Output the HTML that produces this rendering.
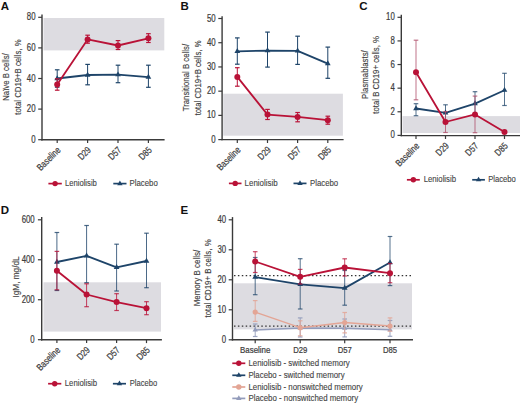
<!DOCTYPE html><html><head><meta charset="utf-8"><style>html,body{margin:0;padding:0;background:#fff;}svg{display:block;}</style></head><body>
<svg width="520" height="403" viewBox="0 0 520 403" font-family='"Liberation Sans", sans-serif'>
<rect width="520" height="403" fill="#ffffff"/>
<text x="0.80" y="9.90" font-size="11.5" text-anchor="start" fill="#111111" font-weight="bold" >A</text>
<rect x="43.50" y="18.00" width="120.80" height="32.40" fill="#dddce1"/>
<line x1="38.20" y1="139.70" x2="42.00" y2="139.70" stroke="#3a3a3a" stroke-width="1.2" />
<text x="35.50" y="142.70" font-size="10.0" text-anchor="end" fill="#3d3d3d" stroke="#3d3d3d" stroke-width="0.22" textLength="4.35" lengthAdjust="spacingAndGlyphs" >0</text>
<line x1="38.20" y1="109.10" x2="42.00" y2="109.10" stroke="#3a3a3a" stroke-width="1.2" />
<text x="35.50" y="112.10" font-size="10.0" text-anchor="end" fill="#3d3d3d" stroke="#3d3d3d" stroke-width="0.22" textLength="8.70" lengthAdjust="spacingAndGlyphs" >20</text>
<line x1="38.20" y1="78.50" x2="42.00" y2="78.50" stroke="#3a3a3a" stroke-width="1.2" />
<text x="35.50" y="81.50" font-size="10.0" text-anchor="end" fill="#3d3d3d" stroke="#3d3d3d" stroke-width="0.22" textLength="8.70" lengthAdjust="spacingAndGlyphs" >40</text>
<line x1="38.20" y1="47.90" x2="42.00" y2="47.90" stroke="#3a3a3a" stroke-width="1.2" />
<text x="35.50" y="50.90" font-size="10.0" text-anchor="end" fill="#3d3d3d" stroke="#3d3d3d" stroke-width="0.22" textLength="8.70" lengthAdjust="spacingAndGlyphs" >60</text>
<line x1="38.20" y1="17.30" x2="42.00" y2="17.30" stroke="#3a3a3a" stroke-width="1.2" />
<text x="35.50" y="20.30" font-size="10.0" text-anchor="end" fill="#3d3d3d" stroke="#3d3d3d" stroke-width="0.22" textLength="8.70" lengthAdjust="spacingAndGlyphs" >80</text>
<line x1="57.20" y1="139.70" x2="57.20" y2="143.10" stroke="#3a3a3a" stroke-width="1.2" />
<line x1="87.60" y1="139.70" x2="87.60" y2="143.10" stroke="#3a3a3a" stroke-width="1.2" />
<line x1="118.00" y1="139.70" x2="118.00" y2="143.10" stroke="#3a3a3a" stroke-width="1.2" />
<line x1="148.40" y1="139.70" x2="148.40" y2="143.10" stroke="#3a3a3a" stroke-width="1.2" />
<line x1="42.00" y1="14.50" x2="42.00" y2="140.40" stroke="#3a3a3a" stroke-width="1.4" />
<line x1="41.30" y1="139.70" x2="164.60" y2="139.70" stroke="#3a3a3a" stroke-width="1.4" />
<text x="61.20" y="150.70" font-size="9.6" text-anchor="end" fill="#3d3d3d" stroke="#3d3d3d" stroke-width="0.22" textLength="29.00" lengthAdjust="spacingAndGlyphs" transform="rotate(-45 61.20 150.70)" >Baseline</text>
<text x="91.60" y="150.70" font-size="9.6" text-anchor="end" fill="#3d3d3d" stroke="#3d3d3d" stroke-width="0.22" textLength="14.00" lengthAdjust="spacingAndGlyphs" transform="rotate(-45 91.60 150.70)" >D29</text>
<text x="122.00" y="150.70" font-size="9.6" text-anchor="end" fill="#3d3d3d" stroke="#3d3d3d" stroke-width="0.22" textLength="14.00" lengthAdjust="spacingAndGlyphs" transform="rotate(-45 122.00 150.70)" >D57</text>
<text x="152.40" y="150.70" font-size="9.6" text-anchor="end" fill="#3d3d3d" stroke="#3d3d3d" stroke-width="0.22" textLength="14.00" lengthAdjust="spacingAndGlyphs" transform="rotate(-45 152.40 150.70)" >D85</text>
<line x1="57.20" y1="69.80" x2="57.20" y2="87.20" stroke="#1e4469" stroke-width="1.0" />
<line x1="54.90" y1="69.80" x2="59.50" y2="69.80" stroke="#1e4469" stroke-width="1.2" />
<line x1="54.90" y1="87.20" x2="59.50" y2="87.20" stroke="#1e4469" stroke-width="1.2" />
<line x1="87.60" y1="64.40" x2="87.60" y2="84.80" stroke="#1e4469" stroke-width="1.0" />
<line x1="85.30" y1="64.40" x2="89.90" y2="64.40" stroke="#1e4469" stroke-width="1.2" />
<line x1="85.30" y1="84.80" x2="89.90" y2="84.80" stroke="#1e4469" stroke-width="1.2" />
<line x1="118.00" y1="65.20" x2="118.00" y2="82.70" stroke="#1e4469" stroke-width="1.0" />
<line x1="115.70" y1="65.20" x2="120.30" y2="65.20" stroke="#1e4469" stroke-width="1.2" />
<line x1="115.70" y1="82.70" x2="120.30" y2="82.70" stroke="#1e4469" stroke-width="1.2" />
<line x1="148.40" y1="65.20" x2="148.40" y2="87.30" stroke="#1e4469" stroke-width="1.0" />
<line x1="146.10" y1="65.20" x2="150.70" y2="65.20" stroke="#1e4469" stroke-width="1.2" />
<line x1="146.10" y1="87.30" x2="150.70" y2="87.30" stroke="#1e4469" stroke-width="1.2" />
<path d="M57.20,78.50 L87.60,75.00 L118.00,74.70 L148.40,77.10" fill="none" stroke="#1e4469" stroke-width="1.8" stroke-linejoin="round"/>
<polygon points="54.35,80.15 60.05,80.15 57.20,75.21" fill="#1e4469"/>
<polygon points="84.75,76.65 90.45,76.65 87.60,71.71" fill="#1e4469"/>
<polygon points="115.15,76.35 120.85,76.35 118.00,71.41" fill="#1e4469"/>
<polygon points="145.55,78.75 151.25,78.75 148.40,73.81" fill="#1e4469"/>
<line x1="57.20" y1="78.80" x2="57.20" y2="90.20" stroke="#b91237" stroke-width="1.0" />
<line x1="54.90" y1="78.80" x2="59.50" y2="78.80" stroke="#b91237" stroke-width="1.2" />
<line x1="54.90" y1="90.20" x2="59.50" y2="90.20" stroke="#b91237" stroke-width="1.2" />
<line x1="87.60" y1="35.20" x2="87.60" y2="43.20" stroke="#b91237" stroke-width="1.0" />
<line x1="85.30" y1="35.20" x2="89.90" y2="35.20" stroke="#b91237" stroke-width="1.2" />
<line x1="85.30" y1="43.20" x2="89.90" y2="43.20" stroke="#b91237" stroke-width="1.2" />
<line x1="118.00" y1="40.60" x2="118.00" y2="49.50" stroke="#b91237" stroke-width="1.0" />
<line x1="115.70" y1="40.60" x2="120.30" y2="40.60" stroke="#b91237" stroke-width="1.2" />
<line x1="115.70" y1="49.50" x2="120.30" y2="49.50" stroke="#b91237" stroke-width="1.2" />
<line x1="148.40" y1="33.70" x2="148.40" y2="42.50" stroke="#b91237" stroke-width="1.0" />
<line x1="146.10" y1="33.70" x2="150.70" y2="33.70" stroke="#b91237" stroke-width="1.2" />
<line x1="146.10" y1="42.50" x2="150.70" y2="42.50" stroke="#b91237" stroke-width="1.2" />
<path d="M57.20,84.50 L87.60,39.40 L118.00,45.50 L148.40,38.30" fill="none" stroke="#b91237" stroke-width="1.8" stroke-linejoin="round"/>
<circle cx="57.20" cy="84.50" r="3.0" fill="#b91237"/>
<circle cx="87.60" cy="39.40" r="3.0" fill="#b91237"/>
<circle cx="118.00" cy="45.50" r="3.0" fill="#b91237"/>
<circle cx="148.40" cy="38.30" r="3.0" fill="#b91237"/>
<text x="9.00" y="77.00" font-size="9.9" text-anchor="middle" fill="#3d3d3d" stroke="#3d3d3d" stroke-width="0.15" textLength="47.50" lengthAdjust="spacingAndGlyphs" transform="rotate(-90 9.00 77.00)" >Naïve B cells/</text>
<text x="21.40" y="77.00" font-size="9.9" text-anchor="middle" fill="#3d3d3d" stroke="#3d3d3d" stroke-width="0.15" textLength="75.30" lengthAdjust="spacingAndGlyphs" transform="rotate(-90 21.40 77.00)" >total CD19+B cells, %</text>
<line x1="48.40" y1="183.60" x2="61.80" y2="183.60" stroke="#b91237" stroke-width="1.7" />
<circle cx="55.10" cy="183.60" r="2.7" fill="#b91237"/>
<text x="64.90" y="186.20" font-size="8.6" text-anchor="start" fill="#444444" stroke="#444444" stroke-width="0.12" textLength="32.00" lengthAdjust="spacingAndGlyphs" >Leniolisib</text>
<line x1="113.30" y1="183.60" x2="126.50" y2="183.60" stroke="#1e4469" stroke-width="1.7" />
<polygon points="117.20,185.16 122.60,185.16 119.90,180.48" fill="#1e4469"/>
<text x="129.60" y="186.20" font-size="8.6" text-anchor="start" fill="#444444" stroke="#444444" stroke-width="0.12" textLength="28.20" lengthAdjust="spacingAndGlyphs" >Placebo</text>
<text x="180.50" y="9.90" font-size="11.5" text-anchor="start" fill="#111111" font-weight="bold" >B</text>
<rect x="223.20" y="93.70" width="119.70" height="42.00" fill="#dddce1"/>
<line x1="218.30" y1="139.60" x2="222.10" y2="139.60" stroke="#3a3a3a" stroke-width="1.2" />
<text x="215.60" y="142.60" font-size="10.0" text-anchor="end" fill="#3d3d3d" stroke="#3d3d3d" stroke-width="0.22" textLength="4.35" lengthAdjust="spacingAndGlyphs" >0</text>
<line x1="218.30" y1="115.38" x2="222.10" y2="115.38" stroke="#3a3a3a" stroke-width="1.2" />
<text x="215.60" y="118.38" font-size="10.0" text-anchor="end" fill="#3d3d3d" stroke="#3d3d3d" stroke-width="0.22" textLength="8.70" lengthAdjust="spacingAndGlyphs" >10</text>
<line x1="218.30" y1="91.16" x2="222.10" y2="91.16" stroke="#3a3a3a" stroke-width="1.2" />
<text x="215.60" y="94.16" font-size="10.0" text-anchor="end" fill="#3d3d3d" stroke="#3d3d3d" stroke-width="0.22" textLength="8.70" lengthAdjust="spacingAndGlyphs" >20</text>
<line x1="218.30" y1="66.94" x2="222.10" y2="66.94" stroke="#3a3a3a" stroke-width="1.2" />
<text x="215.60" y="69.94" font-size="10.0" text-anchor="end" fill="#3d3d3d" stroke="#3d3d3d" stroke-width="0.22" textLength="8.70" lengthAdjust="spacingAndGlyphs" >30</text>
<line x1="218.30" y1="42.72" x2="222.10" y2="42.72" stroke="#3a3a3a" stroke-width="1.2" />
<text x="215.60" y="45.72" font-size="10.0" text-anchor="end" fill="#3d3d3d" stroke="#3d3d3d" stroke-width="0.22" textLength="8.70" lengthAdjust="spacingAndGlyphs" >40</text>
<line x1="218.30" y1="18.50" x2="222.10" y2="18.50" stroke="#3a3a3a" stroke-width="1.2" />
<text x="215.60" y="21.50" font-size="10.0" text-anchor="end" fill="#3d3d3d" stroke="#3d3d3d" stroke-width="0.22" textLength="8.70" lengthAdjust="spacingAndGlyphs" >50</text>
<line x1="237.30" y1="139.60" x2="237.30" y2="143.00" stroke="#3a3a3a" stroke-width="1.2" />
<line x1="267.50" y1="139.60" x2="267.50" y2="143.00" stroke="#3a3a3a" stroke-width="1.2" />
<line x1="297.60" y1="139.60" x2="297.60" y2="143.00" stroke="#3a3a3a" stroke-width="1.2" />
<line x1="327.80" y1="139.60" x2="327.80" y2="143.00" stroke="#3a3a3a" stroke-width="1.2" />
<line x1="222.10" y1="16.20" x2="222.10" y2="140.30" stroke="#3a3a3a" stroke-width="1.4" />
<line x1="221.40" y1="139.60" x2="343.60" y2="139.60" stroke="#3a3a3a" stroke-width="1.4" />
<text x="241.30" y="150.60" font-size="9.6" text-anchor="end" fill="#3d3d3d" stroke="#3d3d3d" stroke-width="0.22" textLength="29.00" lengthAdjust="spacingAndGlyphs" transform="rotate(-45 241.30 150.60)" >Baseline</text>
<text x="271.50" y="150.60" font-size="9.6" text-anchor="end" fill="#3d3d3d" stroke="#3d3d3d" stroke-width="0.22" textLength="14.00" lengthAdjust="spacingAndGlyphs" transform="rotate(-45 271.50 150.60)" >D29</text>
<text x="301.60" y="150.60" font-size="9.6" text-anchor="end" fill="#3d3d3d" stroke="#3d3d3d" stroke-width="0.22" textLength="14.00" lengthAdjust="spacingAndGlyphs" transform="rotate(-45 301.60 150.60)" >D57</text>
<text x="331.80" y="150.60" font-size="9.6" text-anchor="end" fill="#3d3d3d" stroke="#3d3d3d" stroke-width="0.22" textLength="14.00" lengthAdjust="spacingAndGlyphs" transform="rotate(-45 331.80 150.60)" >D85</text>
<line x1="237.30" y1="37.90" x2="237.30" y2="64.20" stroke="#1e4469" stroke-width="1.0" />
<line x1="235.00" y1="37.90" x2="239.60" y2="37.90" stroke="#1e4469" stroke-width="1.2" />
<line x1="235.00" y1="64.20" x2="239.60" y2="64.20" stroke="#1e4469" stroke-width="1.2" />
<line x1="267.50" y1="32.10" x2="267.50" y2="67.10" stroke="#1e4469" stroke-width="1.0" />
<line x1="265.20" y1="32.10" x2="269.80" y2="32.10" stroke="#1e4469" stroke-width="1.2" />
<line x1="265.20" y1="67.10" x2="269.80" y2="67.10" stroke="#1e4469" stroke-width="1.2" />
<line x1="297.60" y1="36.20" x2="297.60" y2="64.40" stroke="#1e4469" stroke-width="1.0" />
<line x1="295.30" y1="36.20" x2="299.90" y2="36.20" stroke="#1e4469" stroke-width="1.2" />
<line x1="295.30" y1="64.40" x2="299.90" y2="64.40" stroke="#1e4469" stroke-width="1.2" />
<line x1="327.80" y1="47.10" x2="327.80" y2="78.30" stroke="#1e4469" stroke-width="1.0" />
<line x1="325.50" y1="47.10" x2="330.10" y2="47.10" stroke="#1e4469" stroke-width="1.2" />
<line x1="325.50" y1="78.30" x2="330.10" y2="78.30" stroke="#1e4469" stroke-width="1.2" />
<path d="M237.30,51.40 L267.50,50.60 L297.60,50.90 L327.80,63.60" fill="none" stroke="#1e4469" stroke-width="1.8" stroke-linejoin="round"/>
<polygon points="234.45,53.05 240.15,53.05 237.30,48.11" fill="#1e4469"/>
<polygon points="264.65,52.25 270.35,52.25 267.50,47.31" fill="#1e4469"/>
<polygon points="294.75,52.55 300.45,52.55 297.60,47.61" fill="#1e4469"/>
<polygon points="324.95,65.25 330.65,65.25 327.80,60.31" fill="#1e4469"/>
<line x1="237.30" y1="67.70" x2="237.30" y2="86.20" stroke="#b91237" stroke-width="1.0" />
<line x1="235.00" y1="67.70" x2="239.60" y2="67.70" stroke="#b91237" stroke-width="1.2" />
<line x1="235.00" y1="86.20" x2="239.60" y2="86.20" stroke="#b91237" stroke-width="1.2" />
<line x1="267.50" y1="109.40" x2="267.50" y2="119.50" stroke="#b91237" stroke-width="1.0" />
<line x1="265.20" y1="109.40" x2="269.80" y2="109.40" stroke="#b91237" stroke-width="1.2" />
<line x1="265.20" y1="119.50" x2="269.80" y2="119.50" stroke="#b91237" stroke-width="1.2" />
<line x1="297.60" y1="112.50" x2="297.60" y2="121.80" stroke="#b91237" stroke-width="1.0" />
<line x1="295.30" y1="112.50" x2="299.90" y2="112.50" stroke="#b91237" stroke-width="1.2" />
<line x1="295.30" y1="121.80" x2="299.90" y2="121.80" stroke="#b91237" stroke-width="1.2" />
<line x1="327.80" y1="116.20" x2="327.80" y2="124.20" stroke="#b91237" stroke-width="1.0" />
<line x1="325.50" y1="116.20" x2="330.10" y2="116.20" stroke="#b91237" stroke-width="1.2" />
<line x1="325.50" y1="124.20" x2="330.10" y2="124.20" stroke="#b91237" stroke-width="1.2" />
<path d="M237.30,76.90 L267.50,114.60 L297.60,116.90 L327.80,120.20" fill="none" stroke="#b91237" stroke-width="1.8" stroke-linejoin="round"/>
<circle cx="237.30" cy="76.90" r="3.0" fill="#b91237"/>
<circle cx="267.50" cy="114.60" r="3.0" fill="#b91237"/>
<circle cx="297.60" cy="116.90" r="3.0" fill="#b91237"/>
<circle cx="327.80" cy="120.20" r="3.0" fill="#b91237"/>
<text x="188.80" y="77.60" font-size="9.9" text-anchor="middle" fill="#3d3d3d" stroke="#3d3d3d" stroke-width="0.15" textLength="67.40" lengthAdjust="spacingAndGlyphs" transform="rotate(-90 188.80 77.60)" >Transitional B cells/</text>
<text x="200.90" y="77.90" font-size="9.9" text-anchor="middle" fill="#3d3d3d" stroke="#3d3d3d" stroke-width="0.15" textLength="74.80" lengthAdjust="spacingAndGlyphs" transform="rotate(-90 200.90 77.90)" >total CD19+B cells, %</text>
<line x1="228.90" y1="183.40" x2="241.50" y2="183.40" stroke="#b91237" stroke-width="1.7" />
<circle cx="235.20" cy="183.40" r="2.7" fill="#b91237"/>
<text x="244.60" y="186.00" font-size="8.6" text-anchor="start" fill="#444444" stroke="#444444" stroke-width="0.12" textLength="33.00" lengthAdjust="spacingAndGlyphs" >Leniolisib</text>
<line x1="293.50" y1="183.40" x2="306.50" y2="183.40" stroke="#1e4469" stroke-width="1.7" />
<polygon points="297.30,184.96 302.70,184.96 300.00,180.28" fill="#1e4469"/>
<text x="310.00" y="186.00" font-size="8.6" text-anchor="start" fill="#444444" stroke="#444444" stroke-width="0.12" textLength="28.20" lengthAdjust="spacingAndGlyphs" >Placebo</text>
<text x="359.30" y="10.10" font-size="11.5" text-anchor="start" fill="#111111" font-weight="bold" >C</text>
<rect x="402.50" y="116.10" width="117.50" height="16.90" fill="#dddce1"/>
<line x1="397.50" y1="135.40" x2="401.30" y2="135.40" stroke="#3a3a3a" stroke-width="1.2" />
<text x="394.80" y="138.40" font-size="10.0" text-anchor="end" fill="#3d3d3d" stroke="#3d3d3d" stroke-width="0.22" textLength="4.35" lengthAdjust="spacingAndGlyphs" >0</text>
<line x1="397.50" y1="111.78" x2="401.30" y2="111.78" stroke="#3a3a3a" stroke-width="1.2" />
<text x="394.80" y="114.78" font-size="10.0" text-anchor="end" fill="#3d3d3d" stroke="#3d3d3d" stroke-width="0.22" textLength="4.35" lengthAdjust="spacingAndGlyphs" >2</text>
<line x1="397.50" y1="88.16" x2="401.30" y2="88.16" stroke="#3a3a3a" stroke-width="1.2" />
<text x="394.80" y="91.16" font-size="10.0" text-anchor="end" fill="#3d3d3d" stroke="#3d3d3d" stroke-width="0.22" textLength="4.35" lengthAdjust="spacingAndGlyphs" >4</text>
<line x1="397.50" y1="64.54" x2="401.30" y2="64.54" stroke="#3a3a3a" stroke-width="1.2" />
<text x="394.80" y="67.54" font-size="10.0" text-anchor="end" fill="#3d3d3d" stroke="#3d3d3d" stroke-width="0.22" textLength="4.35" lengthAdjust="spacingAndGlyphs" >6</text>
<line x1="397.50" y1="40.92" x2="401.30" y2="40.92" stroke="#3a3a3a" stroke-width="1.2" />
<text x="394.80" y="43.92" font-size="10.0" text-anchor="end" fill="#3d3d3d" stroke="#3d3d3d" stroke-width="0.22" textLength="4.35" lengthAdjust="spacingAndGlyphs" >8</text>
<line x1="397.50" y1="17.30" x2="401.30" y2="17.30" stroke="#3a3a3a" stroke-width="1.2" />
<text x="394.80" y="20.30" font-size="10.0" text-anchor="end" fill="#3d3d3d" stroke="#3d3d3d" stroke-width="0.22" textLength="8.70" lengthAdjust="spacingAndGlyphs" >10</text>
<line x1="416.00" y1="135.60" x2="416.00" y2="139.00" stroke="#3a3a3a" stroke-width="1.2" />
<line x1="445.50" y1="135.60" x2="445.50" y2="139.00" stroke="#3a3a3a" stroke-width="1.2" />
<line x1="475.00" y1="135.60" x2="475.00" y2="139.00" stroke="#3a3a3a" stroke-width="1.2" />
<line x1="504.50" y1="135.60" x2="504.50" y2="139.00" stroke="#3a3a3a" stroke-width="1.2" />
<line x1="401.30" y1="14.80" x2="401.30" y2="136.30" stroke="#3a3a3a" stroke-width="1.4" />
<line x1="400.60" y1="135.60" x2="520.00" y2="135.60" stroke="#3a3a3a" stroke-width="1.4" />
<text x="420.00" y="146.60" font-size="9.6" text-anchor="end" fill="#3d3d3d" stroke="#3d3d3d" stroke-width="0.22" textLength="29.00" lengthAdjust="spacingAndGlyphs" transform="rotate(-45 420.00 146.60)" >Baseline</text>
<text x="449.50" y="146.60" font-size="9.6" text-anchor="end" fill="#3d3d3d" stroke="#3d3d3d" stroke-width="0.22" textLength="14.00" lengthAdjust="spacingAndGlyphs" transform="rotate(-45 449.50 146.60)" >D29</text>
<text x="479.00" y="146.60" font-size="9.6" text-anchor="end" fill="#3d3d3d" stroke="#3d3d3d" stroke-width="0.22" textLength="14.00" lengthAdjust="spacingAndGlyphs" transform="rotate(-45 479.00 146.60)" >D57</text>
<text x="508.50" y="146.60" font-size="9.6" text-anchor="end" fill="#3d3d3d" stroke="#3d3d3d" stroke-width="0.22" textLength="14.00" lengthAdjust="spacingAndGlyphs" transform="rotate(-45 508.50 146.60)" >D85</text>
<line x1="416.00" y1="103.70" x2="416.00" y2="115.70" stroke="#1e4469" stroke-width="1.0" stroke-opacity="0.75"/>
<line x1="413.70" y1="103.70" x2="418.30" y2="103.70" stroke="#1e4469" stroke-width="1.2" stroke-opacity="0.75"/>
<line x1="413.70" y1="115.70" x2="418.30" y2="115.70" stroke="#1e4469" stroke-width="1.2" stroke-opacity="0.75"/>
<line x1="445.50" y1="104.80" x2="445.50" y2="121.00" stroke="#1e4469" stroke-width="1.0" stroke-opacity="0.75"/>
<line x1="443.20" y1="104.80" x2="447.80" y2="104.80" stroke="#1e4469" stroke-width="1.2" stroke-opacity="0.75"/>
<line x1="443.20" y1="121.00" x2="447.80" y2="121.00" stroke="#1e4469" stroke-width="1.2" stroke-opacity="0.75"/>
<line x1="475.00" y1="91.70" x2="475.00" y2="115.50" stroke="#1e4469" stroke-width="1.0" stroke-opacity="0.75"/>
<line x1="472.70" y1="91.70" x2="477.30" y2="91.70" stroke="#1e4469" stroke-width="1.2" stroke-opacity="0.75"/>
<line x1="472.70" y1="115.50" x2="477.30" y2="115.50" stroke="#1e4469" stroke-width="1.2" stroke-opacity="0.75"/>
<line x1="504.50" y1="73.30" x2="504.50" y2="105.50" stroke="#1e4469" stroke-width="1.0" stroke-opacity="0.75"/>
<line x1="502.20" y1="73.30" x2="506.80" y2="73.30" stroke="#1e4469" stroke-width="1.2" stroke-opacity="0.75"/>
<line x1="502.20" y1="105.50" x2="506.80" y2="105.50" stroke="#1e4469" stroke-width="1.2" stroke-opacity="0.75"/>
<path d="M416.00,108.50 L445.50,112.90 L475.00,103.60 L504.50,90.20" fill="none" stroke="#1e4469" stroke-width="1.8" stroke-linejoin="round"/>
<polygon points="413.15,110.15 418.85,110.15 416.00,105.21" fill="#1e4469"/>
<polygon points="442.65,114.55 448.35,114.55 445.50,109.61" fill="#1e4469"/>
<polygon points="472.15,105.25 477.85,105.25 475.00,100.31" fill="#1e4469"/>
<polygon points="501.65,91.85 507.35,91.85 504.50,86.91" fill="#1e4469"/>
<line x1="416.00" y1="40.20" x2="416.00" y2="99.80" stroke="#b0506c" stroke-width="1.0" stroke-opacity="0.8"/>
<line x1="413.70" y1="40.20" x2="418.30" y2="40.20" stroke="#b0506c" stroke-width="1.2" stroke-opacity="0.8"/>
<line x1="413.70" y1="99.80" x2="418.30" y2="99.80" stroke="#b0506c" stroke-width="1.2" stroke-opacity="0.8"/>
<line x1="445.50" y1="111.60" x2="445.50" y2="132.50" stroke="#b0506c" stroke-width="1.0" stroke-opacity="0.8"/>
<line x1="443.20" y1="111.60" x2="447.80" y2="111.60" stroke="#b0506c" stroke-width="1.2" stroke-opacity="0.8"/>
<line x1="443.20" y1="132.50" x2="447.80" y2="132.50" stroke="#b0506c" stroke-width="1.2" stroke-opacity="0.8"/>
<line x1="475.00" y1="96.10" x2="475.00" y2="132.70" stroke="#b0506c" stroke-width="1.0" stroke-opacity="0.8"/>
<line x1="472.70" y1="96.10" x2="477.30" y2="96.10" stroke="#b0506c" stroke-width="1.2" stroke-opacity="0.8"/>
<line x1="472.70" y1="132.70" x2="477.30" y2="132.70" stroke="#b0506c" stroke-width="1.2" stroke-opacity="0.8"/>
<line x1="504.50" y1="131.00" x2="504.50" y2="133.00" stroke="#b0506c" stroke-width="1.0" stroke-opacity="0.8"/>
<line x1="502.20" y1="131.00" x2="506.80" y2="131.00" stroke="#b0506c" stroke-width="1.2" stroke-opacity="0.8"/>
<line x1="502.20" y1="133.00" x2="506.80" y2="133.00" stroke="#b0506c" stroke-width="1.2" stroke-opacity="0.8"/>
<path d="M416.00,72.20 L445.50,122.00 L475.00,114.40 L504.50,132.00" fill="none" stroke="#b91237" stroke-width="1.8" stroke-linejoin="round"/>
<circle cx="416.00" cy="72.20" r="3.0" fill="#b91237"/>
<circle cx="445.50" cy="122.00" r="3.0" fill="#b91237"/>
<circle cx="475.00" cy="114.40" r="3.0" fill="#b91237"/>
<circle cx="504.50" cy="132.00" r="3.0" fill="#b91237"/>
<text x="367.80" y="74.60" font-size="9.9" text-anchor="middle" fill="#3d3d3d" stroke="#3d3d3d" stroke-width="0.15" textLength="48.60" lengthAdjust="spacingAndGlyphs" transform="rotate(-90 367.80 74.60)" >Plasmablasts/</text>
<text x="378.90" y="74.85" font-size="9.9" text-anchor="middle" fill="#3d3d3d" stroke="#3d3d3d" stroke-width="0.15" textLength="77.70" lengthAdjust="spacingAndGlyphs" transform="rotate(-90 378.90 74.85)" >total B CD19+ cells, %</text>
<line x1="406.90" y1="179.80" x2="419.80" y2="179.80" stroke="#b91237" stroke-width="1.7" />
<circle cx="413.35" cy="179.80" r="2.7" fill="#b91237"/>
<text x="423.70" y="182.40" font-size="8.6" text-anchor="start" fill="#444444" stroke="#444444" stroke-width="0.12" textLength="32.30" lengthAdjust="spacingAndGlyphs" >Leniolisib</text>
<line x1="472.20" y1="179.80" x2="484.90" y2="179.80" stroke="#1e4469" stroke-width="1.7" />
<polygon points="475.85,181.36 481.25,181.36 478.55,176.68" fill="#1e4469"/>
<text x="488.20" y="182.40" font-size="8.6" text-anchor="start" fill="#444444" stroke="#444444" stroke-width="0.12" textLength="27.70" lengthAdjust="spacingAndGlyphs" >Placebo</text>
<text x="0.80" y="213.80" font-size="11.5" text-anchor="start" fill="#111111" font-weight="bold" >D</text>
<rect x="43.50" y="282.30" width="117.50" height="49.30" fill="#dddce1"/>
<line x1="37.90" y1="339.70" x2="41.70" y2="339.70" stroke="#3a3a3a" stroke-width="1.2" />
<text x="34.70" y="342.70" font-size="10.0" text-anchor="end" fill="#3d3d3d" stroke="#3d3d3d" stroke-width="0.22" textLength="4.35" lengthAdjust="spacingAndGlyphs" >0</text>
<line x1="37.90" y1="299.73" x2="41.70" y2="299.73" stroke="#3a3a3a" stroke-width="1.2" />
<text x="34.70" y="302.73" font-size="10.0" text-anchor="end" fill="#3d3d3d" stroke="#3d3d3d" stroke-width="0.22" textLength="13.05" lengthAdjust="spacingAndGlyphs" >200</text>
<line x1="37.90" y1="259.77" x2="41.70" y2="259.77" stroke="#3a3a3a" stroke-width="1.2" />
<text x="34.70" y="262.77" font-size="10.0" text-anchor="end" fill="#3d3d3d" stroke="#3d3d3d" stroke-width="0.22" textLength="13.05" lengthAdjust="spacingAndGlyphs" >400</text>
<line x1="37.90" y1="219.80" x2="41.70" y2="219.80" stroke="#3a3a3a" stroke-width="1.2" />
<text x="34.70" y="222.80" font-size="10.0" text-anchor="end" fill="#3d3d3d" stroke="#3d3d3d" stroke-width="0.22" textLength="13.05" lengthAdjust="spacingAndGlyphs" >600</text>
<line x1="56.90" y1="339.70" x2="56.90" y2="343.10" stroke="#3a3a3a" stroke-width="1.2" />
<line x1="86.60" y1="339.70" x2="86.60" y2="343.10" stroke="#3a3a3a" stroke-width="1.2" />
<line x1="116.60" y1="339.70" x2="116.60" y2="343.10" stroke="#3a3a3a" stroke-width="1.2" />
<line x1="146.50" y1="339.70" x2="146.50" y2="343.10" stroke="#3a3a3a" stroke-width="1.2" />
<line x1="41.70" y1="217.00" x2="41.70" y2="340.40" stroke="#3a3a3a" stroke-width="1.4" />
<line x1="41.00" y1="339.70" x2="161.90" y2="339.70" stroke="#3a3a3a" stroke-width="1.4" />
<text x="60.90" y="350.70" font-size="9.6" text-anchor="end" fill="#3d3d3d" stroke="#3d3d3d" stroke-width="0.22" textLength="29.00" lengthAdjust="spacingAndGlyphs" transform="rotate(-45 60.90 350.70)" >Baseline</text>
<text x="90.60" y="350.70" font-size="9.6" text-anchor="end" fill="#3d3d3d" stroke="#3d3d3d" stroke-width="0.22" textLength="14.00" lengthAdjust="spacingAndGlyphs" transform="rotate(-45 90.60 350.70)" >D29</text>
<text x="120.60" y="350.70" font-size="9.6" text-anchor="end" fill="#3d3d3d" stroke="#3d3d3d" stroke-width="0.22" textLength="14.00" lengthAdjust="spacingAndGlyphs" transform="rotate(-45 120.60 350.70)" >D57</text>
<text x="150.50" y="350.70" font-size="9.6" text-anchor="end" fill="#3d3d3d" stroke="#3d3d3d" stroke-width="0.22" textLength="14.00" lengthAdjust="spacingAndGlyphs" transform="rotate(-45 150.50 350.70)" >D85</text>
<line x1="56.90" y1="232.50" x2="56.90" y2="290.50" stroke="#1e4469" stroke-width="1.0" stroke-opacity="0.8"/>
<line x1="54.60" y1="232.50" x2="59.20" y2="232.50" stroke="#1e4469" stroke-width="1.2" stroke-opacity="0.8"/>
<line x1="54.60" y1="290.50" x2="59.20" y2="290.50" stroke="#1e4469" stroke-width="1.2" stroke-opacity="0.8"/>
<line x1="86.60" y1="225.50" x2="86.60" y2="282.70" stroke="#1e4469" stroke-width="1.0" stroke-opacity="0.8"/>
<line x1="84.30" y1="225.50" x2="88.90" y2="225.50" stroke="#1e4469" stroke-width="1.2" stroke-opacity="0.8"/>
<line x1="84.30" y1="282.70" x2="88.90" y2="282.70" stroke="#1e4469" stroke-width="1.2" stroke-opacity="0.8"/>
<line x1="116.60" y1="244.20" x2="116.60" y2="291.00" stroke="#1e4469" stroke-width="1.0" stroke-opacity="0.8"/>
<line x1="114.30" y1="244.20" x2="118.90" y2="244.20" stroke="#1e4469" stroke-width="1.2" stroke-opacity="0.8"/>
<line x1="114.30" y1="291.00" x2="118.90" y2="291.00" stroke="#1e4469" stroke-width="1.2" stroke-opacity="0.8"/>
<line x1="146.50" y1="233.20" x2="146.50" y2="287.70" stroke="#1e4469" stroke-width="1.0" stroke-opacity="0.8"/>
<line x1="144.20" y1="233.20" x2="148.80" y2="233.20" stroke="#1e4469" stroke-width="1.2" stroke-opacity="0.8"/>
<line x1="144.20" y1="287.70" x2="148.80" y2="287.70" stroke="#1e4469" stroke-width="1.2" stroke-opacity="0.8"/>
<path d="M56.90,262.00 L86.60,255.80 L116.60,267.40 L146.50,261.00" fill="none" stroke="#1e4469" stroke-width="1.8" stroke-linejoin="round"/>
<polygon points="54.05,263.65 59.75,263.65 56.90,258.71" fill="#1e4469"/>
<polygon points="83.75,257.45 89.45,257.45 86.60,252.51" fill="#1e4469"/>
<polygon points="113.75,269.05 119.45,269.05 116.60,264.11" fill="#1e4469"/>
<polygon points="143.65,262.65 149.35,262.65 146.50,257.71" fill="#1e4469"/>
<line x1="56.90" y1="251.40" x2="56.90" y2="289.80" stroke="#b91237" stroke-width="1.0" stroke-opacity="0.8"/>
<line x1="54.60" y1="251.40" x2="59.20" y2="251.40" stroke="#b91237" stroke-width="1.2" stroke-opacity="0.8"/>
<line x1="54.60" y1="289.80" x2="59.20" y2="289.80" stroke="#b91237" stroke-width="1.2" stroke-opacity="0.8"/>
<line x1="86.60" y1="283.80" x2="86.60" y2="306.70" stroke="#b91237" stroke-width="1.0" stroke-opacity="0.8"/>
<line x1="84.30" y1="283.80" x2="88.90" y2="283.80" stroke="#b91237" stroke-width="1.2" stroke-opacity="0.8"/>
<line x1="84.30" y1="306.70" x2="88.90" y2="306.70" stroke="#b91237" stroke-width="1.2" stroke-opacity="0.8"/>
<line x1="116.60" y1="293.70" x2="116.60" y2="310.50" stroke="#b91237" stroke-width="1.0" stroke-opacity="0.8"/>
<line x1="114.30" y1="293.70" x2="118.90" y2="293.70" stroke="#b91237" stroke-width="1.2" stroke-opacity="0.8"/>
<line x1="114.30" y1="310.50" x2="118.90" y2="310.50" stroke="#b91237" stroke-width="1.2" stroke-opacity="0.8"/>
<line x1="146.50" y1="301.70" x2="146.50" y2="314.70" stroke="#b91237" stroke-width="1.0" stroke-opacity="0.8"/>
<line x1="144.20" y1="301.70" x2="148.80" y2="301.70" stroke="#b91237" stroke-width="1.2" stroke-opacity="0.8"/>
<line x1="144.20" y1="314.70" x2="148.80" y2="314.70" stroke="#b91237" stroke-width="1.2" stroke-opacity="0.8"/>
<path d="M56.90,270.70 L86.60,294.50 L116.60,302.10 L146.50,308.20" fill="none" stroke="#b91237" stroke-width="1.8" stroke-linejoin="round"/>
<circle cx="56.90" cy="270.70" r="3.0" fill="#b91237"/>
<circle cx="86.60" cy="294.50" r="3.0" fill="#b91237"/>
<circle cx="116.60" cy="302.10" r="3.0" fill="#b91237"/>
<circle cx="146.50" cy="308.20" r="3.0" fill="#b91237"/>
<text x="18.90" y="277.00" font-size="9.9" text-anchor="middle" fill="#3d3d3d" stroke="#3d3d3d" stroke-width="0.15" textLength="41.20" lengthAdjust="spacingAndGlyphs" transform="rotate(-90 18.90 277.00)" >IgM, mg/dL</text>
<line x1="48.10" y1="383.70" x2="61.30" y2="383.70" stroke="#b91237" stroke-width="1.7" />
<circle cx="54.70" cy="383.70" r="2.7" fill="#b91237"/>
<text x="64.80" y="386.30" font-size="8.6" text-anchor="start" fill="#444444" stroke="#444444" stroke-width="0.12" textLength="32.30" lengthAdjust="spacingAndGlyphs" >Leniolisib</text>
<line x1="112.90" y1="383.70" x2="126.00" y2="383.70" stroke="#1e4469" stroke-width="1.7" />
<polygon points="116.75,385.26 122.15,385.26 119.45,380.58" fill="#1e4469"/>
<text x="129.80" y="386.30" font-size="8.6" text-anchor="start" fill="#444444" stroke="#444444" stroke-width="0.12" textLength="27.30" lengthAdjust="spacingAndGlyphs" >Placebo</text>
<text x="180.50" y="213.90" font-size="11.5" text-anchor="start" fill="#111111" font-weight="bold" >E</text>
<rect x="234.00" y="283.30" width="178.00" height="46.10" fill="#dddce1"/>
<line x1="228.70" y1="339.80" x2="232.50" y2="339.80" stroke="#3a3a3a" stroke-width="1.2" />
<text x="226.20" y="342.80" font-size="10.0" text-anchor="end" fill="#3d3d3d" stroke="#3d3d3d" stroke-width="0.22" textLength="4.35" lengthAdjust="spacingAndGlyphs" >0</text>
<line x1="228.70" y1="309.80" x2="232.50" y2="309.80" stroke="#3a3a3a" stroke-width="1.2" />
<text x="226.20" y="312.80" font-size="10.0" text-anchor="end" fill="#3d3d3d" stroke="#3d3d3d" stroke-width="0.22" textLength="8.70" lengthAdjust="spacingAndGlyphs" >10</text>
<line x1="228.70" y1="279.80" x2="232.50" y2="279.80" stroke="#3a3a3a" stroke-width="1.2" />
<text x="226.20" y="282.80" font-size="10.0" text-anchor="end" fill="#3d3d3d" stroke="#3d3d3d" stroke-width="0.22" textLength="8.70" lengthAdjust="spacingAndGlyphs" >20</text>
<line x1="228.70" y1="249.80" x2="232.50" y2="249.80" stroke="#3a3a3a" stroke-width="1.2" />
<text x="226.20" y="252.80" font-size="10.0" text-anchor="end" fill="#3d3d3d" stroke="#3d3d3d" stroke-width="0.22" textLength="8.70" lengthAdjust="spacingAndGlyphs" >30</text>
<line x1="228.70" y1="219.80" x2="232.50" y2="219.80" stroke="#3a3a3a" stroke-width="1.2" />
<text x="226.20" y="222.80" font-size="10.0" text-anchor="end" fill="#3d3d3d" stroke="#3d3d3d" stroke-width="0.22" textLength="8.70" lengthAdjust="spacingAndGlyphs" >40</text>
<line x1="255.20" y1="339.80" x2="255.20" y2="343.20" stroke="#3a3a3a" stroke-width="1.2" />
<line x1="300.20" y1="339.80" x2="300.20" y2="343.20" stroke="#3a3a3a" stroke-width="1.2" />
<line x1="344.70" y1="339.80" x2="344.70" y2="343.20" stroke="#3a3a3a" stroke-width="1.2" />
<line x1="390.00" y1="339.80" x2="390.00" y2="343.20" stroke="#3a3a3a" stroke-width="1.2" />
<line x1="232.50" y1="217.10" x2="232.50" y2="340.50" stroke="#3a3a3a" stroke-width="1.4" />
<line x1="231.80" y1="339.80" x2="413.00" y2="339.80" stroke="#3a3a3a" stroke-width="1.4" />
<text x="255.20" y="353.40" font-size="8.6" text-anchor="middle" fill="#3d3d3d" stroke="#3d3d3d" stroke-width="0.22" textLength="30.30" lengthAdjust="spacingAndGlyphs" >Baseline</text>
<text x="300.20" y="353.40" font-size="8.6" text-anchor="middle" fill="#3d3d3d" stroke="#3d3d3d" stroke-width="0.22" textLength="14.10" lengthAdjust="spacingAndGlyphs" >D29</text>
<text x="344.70" y="353.40" font-size="8.6" text-anchor="middle" fill="#3d3d3d" stroke="#3d3d3d" stroke-width="0.22" textLength="14.10" lengthAdjust="spacingAndGlyphs" >D57</text>
<text x="390.00" y="353.40" font-size="8.6" text-anchor="middle" fill="#3d3d3d" stroke="#3d3d3d" stroke-width="0.22" textLength="14.10" lengthAdjust="spacingAndGlyphs" >D85</text>
<line x1="234" y1="275.7" x2="412" y2="275.7" stroke="#333" stroke-width="1.25" stroke-dasharray="1.5 2.4"/>
<line x1="234" y1="326.2" x2="412" y2="326.2" stroke="#333" stroke-width="1.25" stroke-dasharray="1.5 2.4"/>
<line x1="255.20" y1="324.00" x2="255.20" y2="336.50" stroke="#939cbb" stroke-width="1.0" stroke-opacity="0.9"/>
<line x1="252.90" y1="324.00" x2="257.50" y2="324.00" stroke="#939cbb" stroke-width="1.2" stroke-opacity="0.9"/>
<line x1="252.90" y1="336.50" x2="257.50" y2="336.50" stroke="#939cbb" stroke-width="1.2" stroke-opacity="0.9"/>
<line x1="300.20" y1="317.90" x2="300.20" y2="337.00" stroke="#939cbb" stroke-width="1.0" stroke-opacity="0.9"/>
<line x1="297.90" y1="317.90" x2="302.50" y2="317.90" stroke="#939cbb" stroke-width="1.2" stroke-opacity="0.9"/>
<line x1="297.90" y1="337.00" x2="302.50" y2="337.00" stroke="#939cbb" stroke-width="1.2" stroke-opacity="0.9"/>
<line x1="344.70" y1="319.00" x2="344.70" y2="336.90" stroke="#939cbb" stroke-width="1.0" stroke-opacity="0.9"/>
<line x1="342.40" y1="319.00" x2="347.00" y2="319.00" stroke="#939cbb" stroke-width="1.2" stroke-opacity="0.9"/>
<line x1="342.40" y1="336.90" x2="347.00" y2="336.90" stroke="#939cbb" stroke-width="1.2" stroke-opacity="0.9"/>
<line x1="390.00" y1="320.50" x2="390.00" y2="336.30" stroke="#939cbb" stroke-width="1.0" stroke-opacity="0.9"/>
<line x1="387.70" y1="320.50" x2="392.30" y2="320.50" stroke="#939cbb" stroke-width="1.2" stroke-opacity="0.9"/>
<line x1="387.70" y1="336.30" x2="392.30" y2="336.30" stroke="#939cbb" stroke-width="1.2" stroke-opacity="0.9"/>
<path d="M255.20,330.00 L300.20,328.00 L344.70,328.30 L390.00,329.80" fill="none" stroke="#939cbb" stroke-width="1.4" stroke-linejoin="round"/>
<polygon points="252.54,331.54 257.86,331.54 255.20,326.93" fill="#939cbb"/>
<polygon points="297.54,329.54 302.86,329.54 300.20,324.93" fill="#939cbb"/>
<polygon points="342.04,329.84 347.36,329.84 344.70,325.23" fill="#939cbb"/>
<polygon points="387.34,331.34 392.66,331.34 390.00,326.73" fill="#939cbb"/>
<line x1="255.20" y1="300.60" x2="255.20" y2="321.40" stroke="#e3a595" stroke-width="1.0" stroke-opacity="0.85"/>
<line x1="252.90" y1="300.60" x2="257.50" y2="300.60" stroke="#e3a595" stroke-width="1.2" stroke-opacity="0.85"/>
<line x1="252.90" y1="321.40" x2="257.50" y2="321.40" stroke="#e3a595" stroke-width="1.2" stroke-opacity="0.85"/>
<line x1="300.20" y1="320.80" x2="300.20" y2="335.80" stroke="#e3a595" stroke-width="1.0" stroke-opacity="0.85"/>
<line x1="297.90" y1="320.80" x2="302.50" y2="320.80" stroke="#e3a595" stroke-width="1.2" stroke-opacity="0.85"/>
<line x1="297.90" y1="335.80" x2="302.50" y2="335.80" stroke="#e3a595" stroke-width="1.2" stroke-opacity="0.85"/>
<line x1="344.70" y1="312.50" x2="344.70" y2="332.90" stroke="#e3a595" stroke-width="1.0" stroke-opacity="0.85"/>
<line x1="342.40" y1="312.50" x2="347.00" y2="312.50" stroke="#e3a595" stroke-width="1.2" stroke-opacity="0.85"/>
<line x1="342.40" y1="332.90" x2="347.00" y2="332.90" stroke="#e3a595" stroke-width="1.2" stroke-opacity="0.85"/>
<line x1="390.00" y1="317.90" x2="390.00" y2="331.20" stroke="#e3a595" stroke-width="1.0" stroke-opacity="0.85"/>
<line x1="387.70" y1="317.90" x2="392.30" y2="317.90" stroke="#e3a595" stroke-width="1.2" stroke-opacity="0.85"/>
<line x1="387.70" y1="331.20" x2="392.30" y2="331.20" stroke="#e3a595" stroke-width="1.2" stroke-opacity="0.85"/>
<path d="M255.20,312.10 L300.20,327.70 L344.70,322.50 L390.00,326.00" fill="none" stroke="#e3a595" stroke-width="1.4" stroke-linejoin="round"/>
<circle cx="255.20" cy="312.10" r="2.6" fill="#e3a595"/>
<circle cx="300.20" cy="327.70" r="2.6" fill="#e3a595"/>
<circle cx="344.70" cy="322.50" r="2.6" fill="#e3a595"/>
<circle cx="390.00" cy="326.00" r="2.6" fill="#e3a595"/>
<line x1="255.20" y1="257.50" x2="255.20" y2="294.70" stroke="#1e4469" stroke-width="1.0" stroke-opacity="0.75"/>
<line x1="252.90" y1="257.50" x2="257.50" y2="257.50" stroke="#1e4469" stroke-width="1.2" stroke-opacity="0.75"/>
<line x1="252.90" y1="294.70" x2="257.50" y2="294.70" stroke="#1e4469" stroke-width="1.2" stroke-opacity="0.75"/>
<line x1="300.20" y1="258.70" x2="300.20" y2="309.00" stroke="#1e4469" stroke-width="1.0" stroke-opacity="0.75"/>
<line x1="297.90" y1="258.70" x2="302.50" y2="258.70" stroke="#1e4469" stroke-width="1.2" stroke-opacity="0.75"/>
<line x1="297.90" y1="309.00" x2="302.50" y2="309.00" stroke="#1e4469" stroke-width="1.2" stroke-opacity="0.75"/>
<line x1="344.70" y1="270.50" x2="344.70" y2="305.20" stroke="#1e4469" stroke-width="1.0" stroke-opacity="0.75"/>
<line x1="342.40" y1="270.50" x2="347.00" y2="270.50" stroke="#1e4469" stroke-width="1.2" stroke-opacity="0.75"/>
<line x1="342.40" y1="305.20" x2="347.00" y2="305.20" stroke="#1e4469" stroke-width="1.2" stroke-opacity="0.75"/>
<line x1="390.00" y1="236.50" x2="390.00" y2="285.60" stroke="#1e4469" stroke-width="1.0" stroke-opacity="0.75"/>
<line x1="387.70" y1="236.50" x2="392.30" y2="236.50" stroke="#1e4469" stroke-width="1.2" stroke-opacity="0.75"/>
<line x1="387.70" y1="285.60" x2="392.30" y2="285.60" stroke="#1e4469" stroke-width="1.2" stroke-opacity="0.75"/>
<path d="M255.20,277.10 L300.20,284.40 L344.70,288.10 L390.00,262.50" fill="none" stroke="#1e4469" stroke-width="1.8" stroke-linejoin="round"/>
<polygon points="252.35,278.75 258.05,278.75 255.20,273.81" fill="#1e4469"/>
<polygon points="297.35,286.05 303.05,286.05 300.20,281.11" fill="#1e4469"/>
<polygon points="341.85,289.75 347.55,289.75 344.70,284.81" fill="#1e4469"/>
<polygon points="387.15,264.15 392.85,264.15 390.00,259.21" fill="#1e4469"/>
<line x1="255.20" y1="251.70" x2="255.20" y2="272.50" stroke="#b91237" stroke-width="1.0" stroke-opacity="0.75"/>
<line x1="252.90" y1="251.70" x2="257.50" y2="251.70" stroke="#b91237" stroke-width="1.2" stroke-opacity="0.75"/>
<line x1="252.90" y1="272.50" x2="257.50" y2="272.50" stroke="#b91237" stroke-width="1.2" stroke-opacity="0.75"/>
<line x1="300.20" y1="269.40" x2="300.20" y2="284.00" stroke="#b91237" stroke-width="1.0" stroke-opacity="0.75"/>
<line x1="297.90" y1="269.40" x2="302.50" y2="269.40" stroke="#b91237" stroke-width="1.2" stroke-opacity="0.75"/>
<line x1="297.90" y1="284.00" x2="302.50" y2="284.00" stroke="#b91237" stroke-width="1.2" stroke-opacity="0.75"/>
<line x1="344.70" y1="258.80" x2="344.70" y2="276.00" stroke="#b91237" stroke-width="1.0" stroke-opacity="0.75"/>
<line x1="342.40" y1="258.80" x2="347.00" y2="258.80" stroke="#b91237" stroke-width="1.2" stroke-opacity="0.75"/>
<line x1="342.40" y1="276.00" x2="347.00" y2="276.00" stroke="#b91237" stroke-width="1.2" stroke-opacity="0.75"/>
<line x1="390.00" y1="263.50" x2="390.00" y2="282.70" stroke="#b91237" stroke-width="1.0" stroke-opacity="0.75"/>
<line x1="387.70" y1="263.50" x2="392.30" y2="263.50" stroke="#b91237" stroke-width="1.2" stroke-opacity="0.75"/>
<line x1="387.70" y1="282.70" x2="392.30" y2="282.70" stroke="#b91237" stroke-width="1.2" stroke-opacity="0.75"/>
<path d="M255.20,261.50 L300.20,276.80 L344.70,267.50 L390.00,273.20" fill="none" stroke="#b91237" stroke-width="1.8" stroke-linejoin="round"/>
<circle cx="255.20" cy="261.50" r="3.0" fill="#b91237"/>
<circle cx="300.20" cy="276.80" r="3.0" fill="#b91237"/>
<circle cx="344.70" cy="267.50" r="3.0" fill="#b91237"/>
<circle cx="390.00" cy="273.20" r="3.0" fill="#b91237"/>
<text x="199.80" y="278.10" font-size="9.9" text-anchor="middle" fill="#3d3d3d" stroke="#3d3d3d" stroke-width="0.15" textLength="56.40" lengthAdjust="spacingAndGlyphs" transform="rotate(-90 199.80 278.10)" >Memory B cells/</text>
<text x="210.90" y="278.45" font-size="9.9" text-anchor="middle" fill="#3d3d3d" stroke="#3d3d3d" stroke-width="0.15" textLength="78.10" lengthAdjust="spacingAndGlyphs" transform="rotate(-90 210.90 278.45)" >total CD19+ B cells, %</text>
<line x1="232.30" y1="363.30" x2="245.30" y2="363.30" stroke="#b91237" stroke-width="1.7" />
<circle cx="238.80" cy="363.30" r="2.7" fill="#b91237"/>
<text x="248.40" y="365.90" font-size="8.6" text-anchor="start" fill="#444444" stroke="#444444" stroke-width="0.12" textLength="101.40" lengthAdjust="spacingAndGlyphs" >Leniolisib - switched memory</text>
<line x1="232.30" y1="375.30" x2="245.30" y2="375.30" stroke="#1e4469" stroke-width="1.7" />
<polygon points="236.10,376.86 241.50,376.86 238.80,372.18" fill="#1e4469"/>
<text x="248.40" y="377.90" font-size="8.6" text-anchor="start" fill="#444444" stroke="#444444" stroke-width="0.12" textLength="96.20" lengthAdjust="spacingAndGlyphs" >Placebo - switched memory</text>
<line x1="232.30" y1="387.00" x2="245.30" y2="387.00" stroke="#e3a595" stroke-width="1.7" />
<circle cx="238.80" cy="387.00" r="2.7" fill="#e3a595"/>
<text x="248.40" y="389.60" font-size="8.6" text-anchor="start" fill="#444444" stroke="#444444" stroke-width="0.12" textLength="114.40" lengthAdjust="spacingAndGlyphs" >Leniolisib - nonswitched memory</text>
<line x1="232.30" y1="398.40" x2="245.30" y2="398.40" stroke="#939cbb" stroke-width="1.7" />
<polygon points="236.10,399.96 241.50,399.96 238.80,395.28" fill="#939cbb"/>
<text x="248.40" y="401.00" font-size="8.6" text-anchor="start" fill="#444444" stroke="#444444" stroke-width="0.12" textLength="109.70" lengthAdjust="spacingAndGlyphs" >Placebo - nonswitched memory</text>
</svg></body></html>
